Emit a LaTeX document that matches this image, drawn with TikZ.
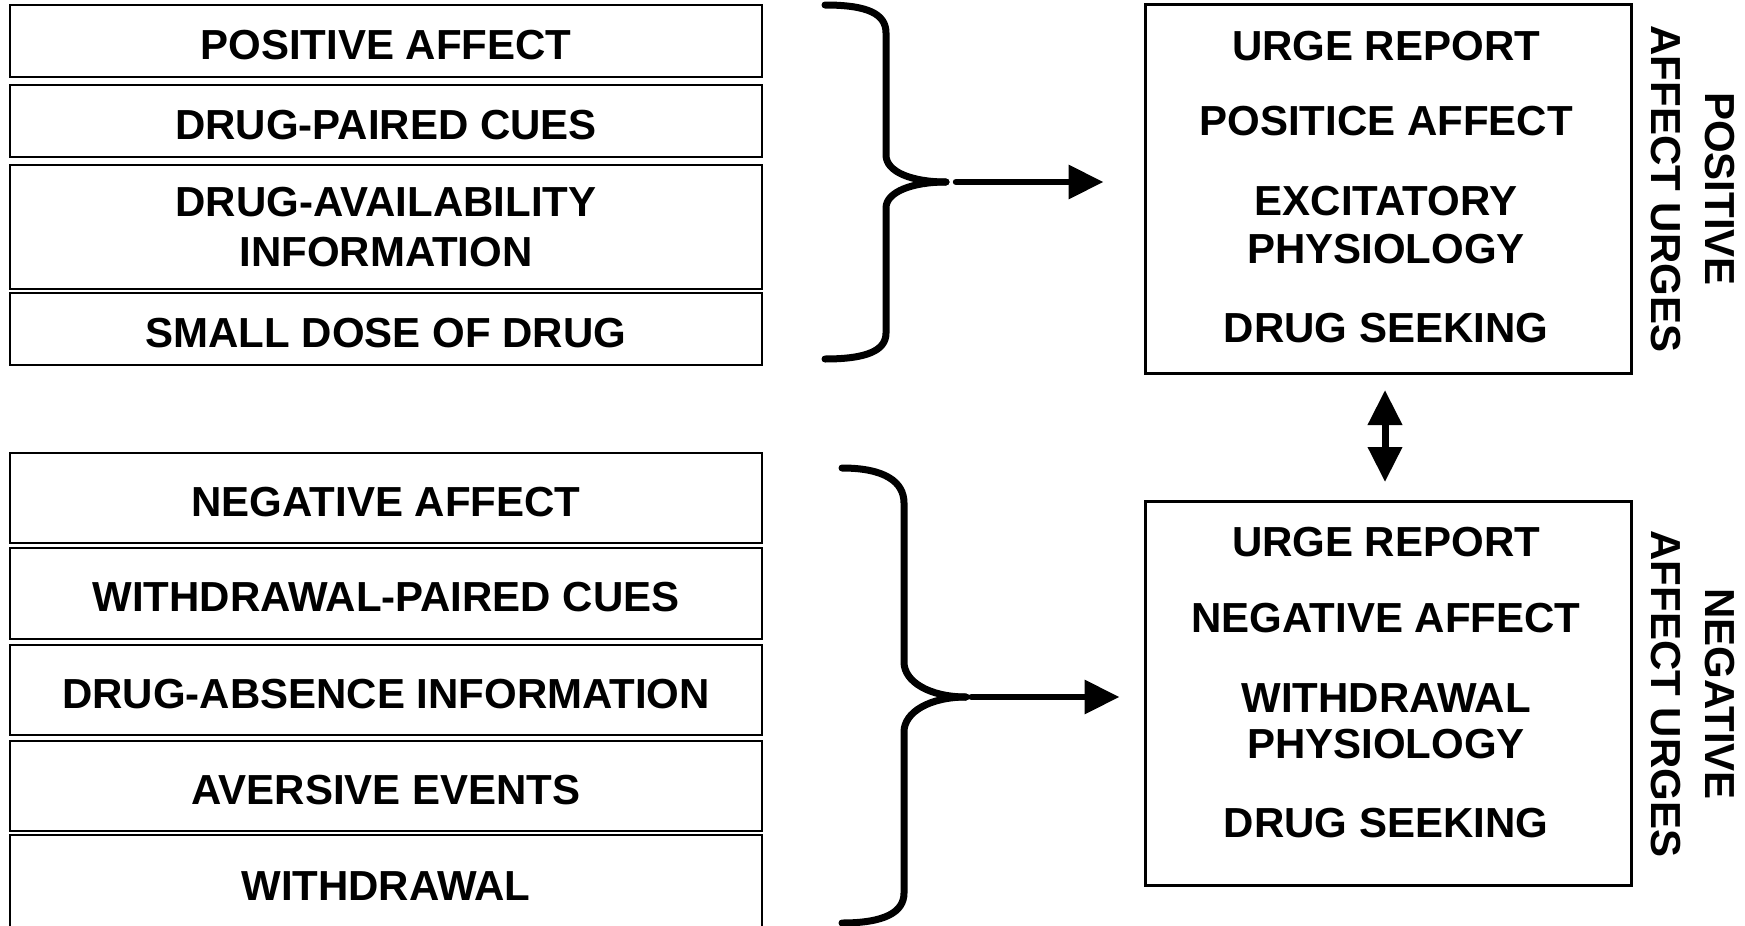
\documentclass[tikz,border=0pt]{standalone}
\usepackage{fontspec}
\setmainfont{Liberation Sans}
\usetikzlibrary{arrows.meta}
\tikzset{bigtri/.tip={Triangle[length=17.5pt,width=16.5pt]}}
\begin{document}
\begin{tikzpicture}[x=0.5pt,y=-0.5pt,
  every node/.style={font=\fontsize{21}{24}\selectfont\bfseries, align=center, inner sep=0pt},
  cuebox/.style={draw, line width=1pt, minimum width=376pt},
  cue/.style={cuebox, text height=18pt, text depth=0pt},
  urgebox/.style={draw, line width=1.5pt, minimum width=243pt},
  sidelabel/.style={rotate=-90, font=\fontsize{21}{27}\selectfont\bfseries},
  brace/.style={line width=3.5pt, line cap=round},
  flow/.style={line width=3.2pt, line cap=round, -{bigtri}},
]
\useasboundingbox (0,0) rectangle (1745,926);

% antecedents of positive-affect urges
\node[cue, minimum height=36pt] (pa)  at (386,41)  {POSITIVE AFFECT};
\node[cue, minimum height=36pt] (dpc) at (386,121) {DRUG-PAIRED CUES};
\node[cuebox, minimum height=62pt] (dai) at (386,227) {DRUG-AVAILABILITY\\[1.25pt]INFORMATION};
\node[cue, minimum height=36pt] (sdd) at (386,329) {SMALL DOSE OF DRUG};

% antecedents of negative-affect urges
\node[cue, minimum height=45pt]   (na)  at (386,498)   {NEGATIVE AFFECT};
\node[cue, minimum height=45.5pt] (wpc) at (386,593.5) {WITHDRAWAL-PAIRED CUES};
\node[cue, minimum height=45pt]   (dab) at (386,690)   {DRUG-ABSENCE INFORMATION};
\node[cue, minimum height=45pt]   (ave) at (386,786)   {AVERSIVE EVENTS};
\node[cue, minimum height=47pt]   (wd)  at (386,882)   {WITHDRAWAL};

% urge boxes
\node[urgebox, minimum height=184.5pt] (pbox) at (1388,188.5) {};
\node (ptext) at (1386,187)
  {URGE REPORT\\[13.5pt]POSITICE AFFECT\\[16pt]EXCITATORY\\PHYSIOLOGY\\[15.25pt]DRUG SEEKING};
\node[urgebox, minimum height=192pt] (nbox) at (1388,693) {};
\node (ntext) at (1386,682.5)
  {URGE REPORT\\[14pt]NEGATIVE AFFECT\\[16pt]WITHDRAWAL\\[-0.75pt]PHYSIOLOGY\\[15.5pt]DRUG SEEKING};

% side labels
\node[sidelabel] (plabel) at (1692.5,189) {POSITIVE\\AFFECT URGES};
\node[sidelabel] (nlabel) at (1692.5,694) {NEGATIVE\\AFFECT URGES};

% braces
\coordinate (ptip) at (946,182);
\coordinate (ntip) at (966,697);
\draw[brace] (825,5) .. controls (868,5) and (886,14) .. (886,33) -- (886,155)
  .. controls (886,172) and (912,182) .. (946,182);
\draw[brace] (825,359) .. controls (868,359) and (886,350) .. (886,333) -- (886,208)
  .. controls (886,192) and (912,182) .. (946,182);
\draw[brace] (842,468) .. controls (885,468) and (904,482) .. (904,503) -- (904,662)
  .. controls (904,682) and (930,697) .. (966,697);
\draw[brace] (842,923) .. controls (885,923) and (904,912) .. (904,893) -- (904,732)
  .. controls (904,712) and (930,697) .. (966,697);

% connectors
\draw[flow, shorten <=5pt, shorten >=20pt] (ptip) -- (ptip -| pbox.west);
\draw[flow, shorten <=2.75pt, shorten >=12pt] (ntip) -- (ntip -| nbox.west);
\draw[line width=3.5pt, {bigtri}-{bigtri}, shorten <=7.75pt, shorten >=8.75pt]
  ([xshift=-1.5pt]pbox.south) -- ([xshift=-1.5pt]nbox.north);
\end{tikzpicture}
\end{document}
